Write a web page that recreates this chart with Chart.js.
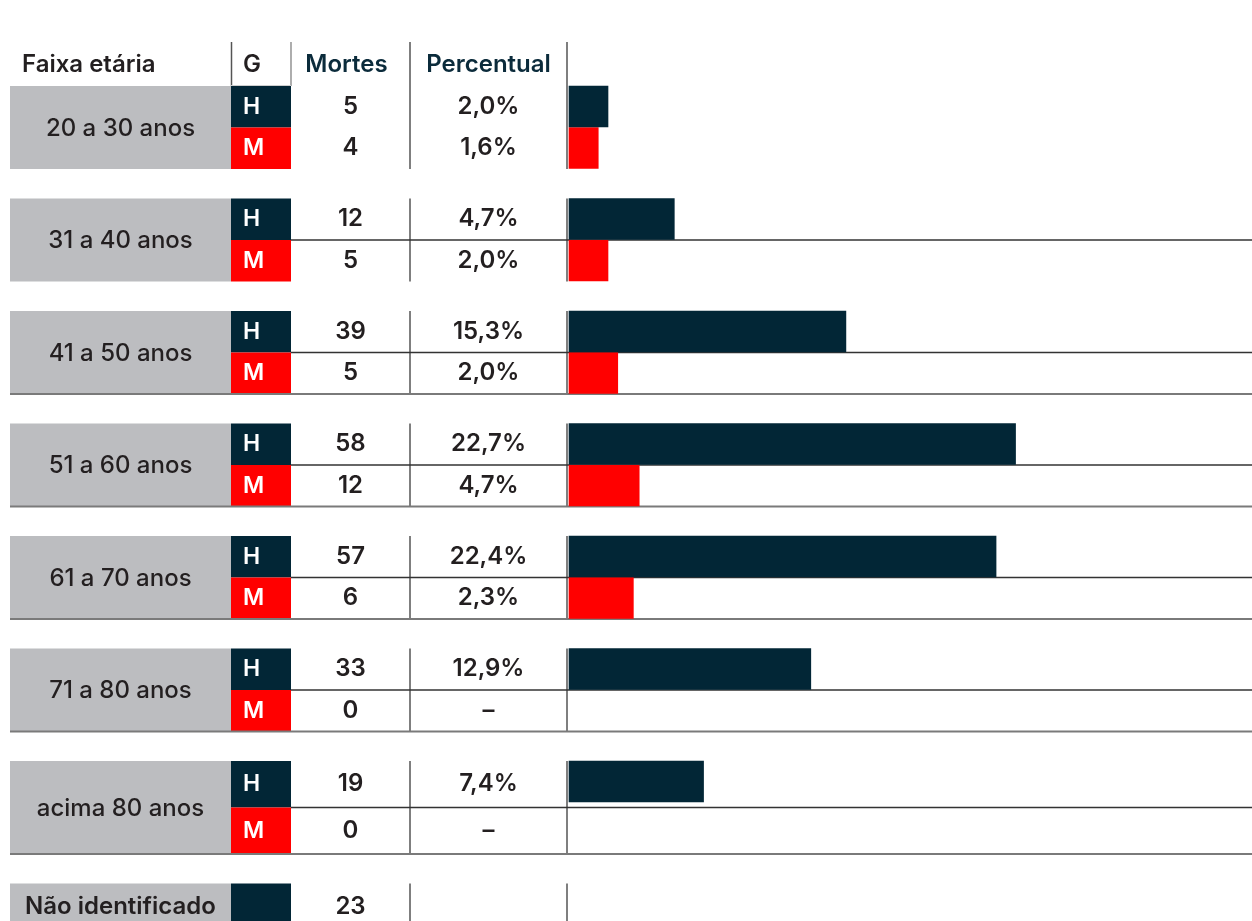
<!DOCTYPE html>
<html><head><meta charset="utf-8">
<script src="https://cdn.jsdelivr.net/npm/chart.js@4"></script>
<style>html,body{margin:0;padding:0;background:#fff}canvas{display:block}</style>
</head><body>
<canvas id="c" width="1252" height="921"></canvas>
<script>
// ---------- data ----------
const headers = ['Faixa etária', 'G', 'Mortes', 'Percentual'];
const ageGroups = ['20 a 30 anos', '31 a 40 anos', '41 a 50 anos', '51 a 60 anos', '61 a 70 anos', '71 a 80 anos', 'acima 80 anos'];
const genderLabels = ['H', 'M'];
const deathsH = [5, 12, 39, 58, 57, 33, 19];
const deathsM = [4, 5, 5, 12, 6, 0, 0];
const pctH = [2.0, 4.7, 15.3, 22.7, 22.4, 12.9, 7.4];
const pctM = [1.6, 2.0, 2.0, 4.7, 2.3, null, null];
// bar lengths as drawn in the graphic (percent scale)
const barH = [2.0, 5.4, 14.2, 22.9, 21.9, 12.4, 6.9];
const barM = [1.5, 2.0, 2.5, 3.6, 3.3, 0, 0];
const unidentifiedLabel = 'Não identificado';
const unidentifiedDeaths = 23;

// ---------- layout / style ----------
const W = 1252, H = 921;
const X_CELL0 = 10, X_G = 231, X_MORT = 291, X_PCT = 410, X_BARLINE = 567, BAR_START = 569, PXU = 19.5;
const ROW_H = [41.5, 41.5, 41.5, 41.5, 41.5, 41.5, 46.5];
const TOP0 = 86, GAP = 29.5, BAR_T = 41, HEAD_TOP = 42;
const NAVY = '#022636', RED = '#ff0000', GRAY = '#bcbdc0', TXT = '#231f20', HEAD_NAVY = '#0b2b3b';
const FONT = 'Inter, "Noto Sans", sans-serif';

const tops = [];
let tt = TOP0;
for (let i = 0; i < ageGroups.length; i++) { tops.push(tt); tt += 2 * ROW_H[i] + GAP; }
const topUnid = tt;
const rowUnid = 46;

const fmtPct = v => v == null ? '–' : v.toFixed(1).replace('.', ',') + '%';

const tablePlugin = {
  id: 'table',
  beforeDatasetsDraw(chart) {
    const ctx = chart.ctx, xs = chart.scales.xt, ys = chart.scales.y;
    const X = v => xs.getPixelForValue(v), Y = v => ys.getPixelForValue(v);
    ctx.save();
    ageGroups.forEach((g, i) => {
      const t = tops[i], r = ROW_H[i];
      ctx.fillStyle = GRAY;
      ctx.fillRect(X(X_CELL0), Y(t), X(X_G) - X(X_CELL0), Y(t + 2 * r) - Y(t));
      ctx.fillStyle = NAVY;
      ctx.fillRect(X(X_G), Y(t), X(X_MORT) - X(X_G), Y(t + r) - Y(t));
      ctx.fillStyle = RED;
      ctx.fillRect(X(X_G), Y(t + r), X(X_MORT) - X(X_G), Y(t + 2 * r) - Y(t + r));
    });
    ctx.fillStyle = GRAY;
    ctx.fillRect(X(X_CELL0), Y(topUnid), X(X_G) - X(X_CELL0), Y(topUnid + rowUnid) - Y(topUnid));
    ctx.fillStyle = NAVY;
    ctx.fillRect(X(X_G), Y(topUnid), X(X_MORT) - X(X_G), Y(topUnid + rowUnid) - Y(topUnid));

    const hline = (x0, x1, y, col, w) => { ctx.strokeStyle = col; ctx.lineWidth = w; ctx.beginPath(); ctx.moveTo(X(x0), Y(y)); ctx.lineTo(X(x1), Y(y)); ctx.stroke(); };
    const vline = (x, y0, y1, col, w) => { ctx.strokeStyle = col; ctx.lineWidth = w; ctx.beginPath(); ctx.moveTo(X(x), Y(y0)); ctx.lineTo(X(x), Y(y1)); ctx.stroke(); };

    vline(X_G + 0.5, HEAD_TOP, TOP0, '#555', 1.5);
    vline(X_MORT, HEAD_TOP, TOP0, '#777', 1.2);
    vline(X_PCT, HEAD_TOP, TOP0, '#555', 1.5);
    vline(X_BARLINE, HEAD_TOP, TOP0, '#555', 1.5);
    hline(X_G, X_MORT, TOP0 - 0.5, '#cfcfcf', 1);

    ageGroups.forEach((g, i) => {
      const t = tops[i], r = ROW_H[i];
      vline(X_PCT, t, t + 2 * r, '#555', 1.5);
      vline(X_BARLINE, t, t + 2 * r, '#555', 1.5);
      if (i >= 1) hline(X_MORT, W, t + r, '#333', 1.5);
      if (i >= 2) hline(X_CELL0, W, t + 2 * r, '#7a7a7a', 2);
    });
    vline(X_PCT, topUnid, H, '#555', 1.5);
    vline(X_BARLINE, topUnid, H, '#555', 1.5);
    ctx.restore();
  },
  afterDatasetsDraw(chart) {
    const ctx = chart.ctx, xs = chart.scales.xt, ys = chart.scales.y;
    const X = v => xs.getPixelForValue(v), Y = v => ys.getPixelForValue(v);
    ctx.save();
    ctx.textBaseline = 'middle';
    const txt = (s, x, y, align, col, font) => { ctx.font = font; ctx.fillStyle = col; ctx.textAlign = align; ctx.fillText(s, X(x), Y(y)); };
    const F = '600 24px ' + FONT;
    const FG = '500 24px ' + FONT;
    const FB = '600 23px ' + FONT;
    const hy = (HEAD_TOP + TOP0) / 2 + 1;
    txt(headers[0], 22, hy, 'left', TXT, F);
    txt(headers[1], 243, hy, 'left', TXT, F);
    txt(headers[2], (X_MORT + X_PCT) / 2 - 4, hy, 'center', HEAD_NAVY, F);
    txt(headers[3], (X_PCT + X_BARLINE) / 2, hy, 'center', HEAD_NAVY, F);

    const cMort = (X_MORT + X_PCT) / 2, cPct = (X_PCT + X_BARLINE) / 2, cCell = (X_CELL0 + X_G) / 2;
    ageGroups.forEach((g, i) => {
      const t = tops[i], r = ROW_H[i];
      txt(g, cCell, t + r + 1, 'center', TXT, FG);
      txt(genderLabels[0], 243, t + r / 2, 'left', '#fff', FB);
      txt(genderLabels[1], 243, t + 1.5 * r, 'left', '#fff', FB);
      txt(String(deathsH[i]), cMort, t + r / 2, 'center', TXT, F);
      txt(String(deathsM[i]), cMort, t + 1.5 * r, 'center', TXT, F);
      txt(fmtPct(pctH[i]), cPct, t + r / 2, 'center', TXT, F);
      txt(fmtPct(pctM[i]), cPct, t + 1.5 * r, 'center', TXT, F);
    });
    txt(unidentifiedLabel, cCell, topUnid + rowUnid / 2, 'center', TXT, F);
    txt(String(unidentifiedDeaths), cMort, topUnid + rowUnid / 2, 'center', TXT, F);
    ctx.restore();
  }
};

const barColor = col => c => (c.raw && c.raw.x === 0) ? 'rgba(0,0,0,0)' : col;

new Chart(document.getElementById('c'), {
  type: 'bar',
  data: {
    datasets: [
      { label: 'H', data: barH.map((v, i) => ({ x: v, y: tops[i] + BAR_T / 2 })), backgroundColor: barColor(NAVY), barThickness: BAR_T, grouped: false, xAxisID: 'x', yAxisID: 'y' },
      { label: 'M', data: barM.map((v, i) => ({ x: v, y: tops[i] + ROW_H[i] + BAR_T / 2 })), backgroundColor: barColor(RED), barThickness: BAR_T, grouped: false, xAxisID: 'x', yAxisID: 'y' }
    ]
  },
  options: {
    indexAxis: 'y',
    responsive: false,
    animation: false,
    devicePixelRatio: 1,
    layout: { padding: 0 },
    plugins: { legend: { display: false }, tooltip: { enabled: false } },
    scales: {
      x: { type: 'linear', min: -BAR_START / PXU, max: (W - BAR_START) / PXU, display: false, offset: false },
      xt: { type: 'linear', axis: 'x', min: 0, max: W, display: false, offset: false },
      y: { type: 'linear', min: 0, max: H, reverse: true, display: false, offset: false, grace: 0 }
    }
  },
  plugins: [tablePlugin]
});
</script>
</body></html>
